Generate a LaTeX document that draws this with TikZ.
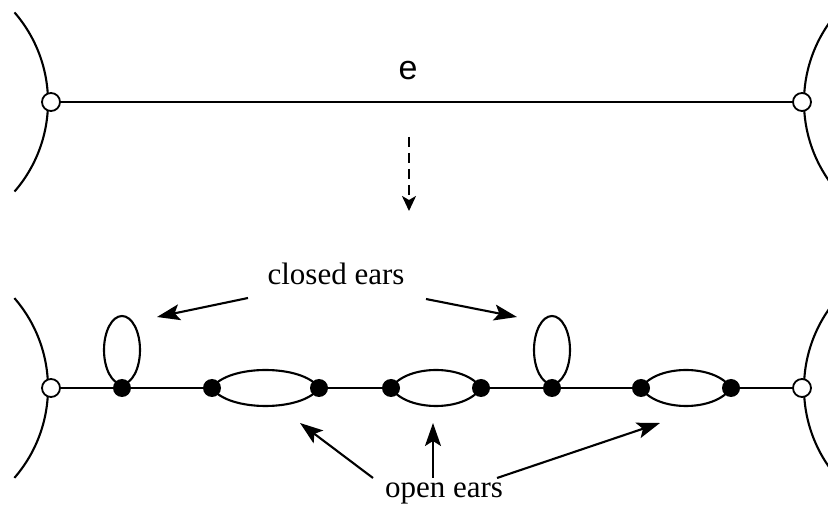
\documentclass[tikz,border=0pt]{standalone}
\usepackage{fontspec}
\setmainfont{Liberation Serif}
\newfontfamily\sansf{Liberation Sans}
\usetikzlibrary{arrows.meta,backgrounds}
\tikzset{
  ln/.style={line width=2.1pt},
  opendot/.style={circle,draw,fill=white,line width=1.8pt,minimum size=18pt,inner sep=0pt},
  blackdot/.style={circle,fill=black,minimum size=18pt,inner sep=0pt},
  arr/.style={ln,-{Stealth[length=23pt,width=16pt,inset=5pt]}},
  lbl/.style={font=\fontsize{31}{36}\selectfont,anchor=base,inner sep=0pt},
}
\begin{document}
\begin{tikzpicture}[x=1pt,y=-1pt]
\useasboundingbox (0,0) rectangle (828,510);
\clip (0,0) rectangle (828,510);
% top
\node[opendot] (tl) at (51,102) {};
\node[opendot] (tr) at (802,102) {};
\node[font=\sansf\fontsize{34}{40}\selectfont,anchor=base,inner sep=0pt] (e) at (408,80) {e};
\coordinate (ds) at (409,137);
\coordinate (de) at (409,211);
% bottom
\node[opendot] (bl) at (51,388) {};
\node[opendot] (br) at (802,388) {};
\node[blackdot] (d1) at (122,388) {};
\node[blackdot] (d2) at (212,388) {};
\node[blackdot] (d3) at (319,388) {};
\node[blackdot] (d4) at (391,388) {};
\node[blackdot] (d5) at (481,388) {};
\node[blackdot] (d6) at (552,388) {};
\node[blackdot] (d7) at (641,388) {};
\node[blackdot] (d8) at (731,388) {};
\node[lbl] (ce) at (336,285) {closed ears};
\node[lbl] (oe) at (444,498) {open ears};
\coordinate (c1s) at (248,298);
\coordinate (c1e) at (157,317);
\coordinate (c2s) at (426,299);
\coordinate (c2e) at (517,317);
\coordinate (o1s) at (373,478);
\coordinate (o1e) at (300,423);
\coordinate (o2s) at (433,478);
\coordinate (o2e) at (433,423);
\coordinate (o3s) at (497,478);
\coordinate (o3e) at (660,423);
\begin{scope}[on background layer]
  % top edge and boundary arcs
  \draw[ln] (tl) -- (tr);
  \draw[ln] (48,102) arc[start angle=0,end angle=41,radius=136.5];
  \draw[ln] (48,102) arc[start angle=0,end angle=-41,radius=136.5];
  \draw[ln] (804,102) arc[start angle=180,end angle=135,radius=136.5];
  \draw[ln] (804,102) arc[start angle=180,end angle=225,radius=136.5];
  \draw[ln,dash pattern=on 10pt off 6pt,-{Stealth[length=15pt,width=14pt,inset=4pt]}] (ds) -- (de);
  % bottom path segments
  \draw[ln] (bl) -- (d1) -- (d2);
  \draw[ln] (d3) -- (d4);
  \draw[ln] (d5) -- (d6) -- (d7);
  \draw[ln] (d8) -- (br);
  \draw[ln] (48,388) arc[start angle=0,end angle=41,radius=137];
  \draw[ln] (48,388) arc[start angle=0,end angle=-41,radius=137];
  \draw[ln] (804,388) arc[start angle=180,end angle=135,radius=137];
  \draw[ln] (804,388) arc[start angle=180,end angle=225,radius=137];
  % closed ears
  \draw[ln] (d1.center) ++(0,-38) ellipse[x radius=18,y radius=34];
  \draw[ln] (d6.center) ++(0,-38) ellipse[x radius=18,y radius=34];
  % open ears
  \foreach \a/\b in {d2/d3,d4/d5,d7/d8}{
    \draw[ln] (\a.center) .. controls +(16,-24) and +(-16,-24) .. (\b.center);
    \draw[ln] (\a.center) .. controls +(16,24) and +(-16,24) .. (\b.center);
  }
  % arrows
  \draw[arr] (c1s) -- (c1e);
  \draw[arr] (c2s) -- (c2e);
  \draw[arr] (o1s) -- (o1e);
  \draw[arr] (o2s) -- (o2e);
  \draw[arr] (o3s) -- (o3e);
\end{scope}
\end{tikzpicture}
\end{document}
